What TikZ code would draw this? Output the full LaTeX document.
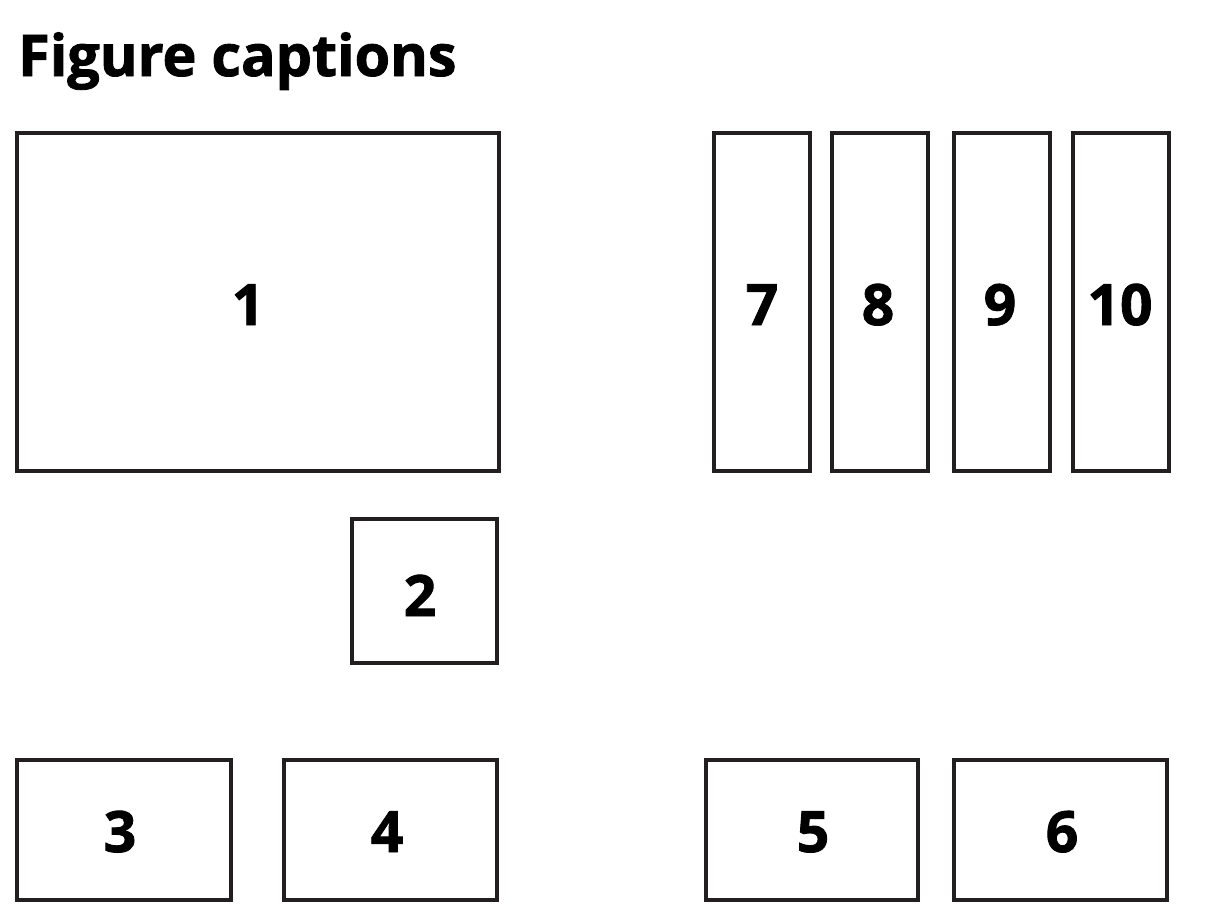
\documentclass[tikz,border=0pt]{standalone}
\usepackage{fontspec}
\setmainfont{Open Sans}[BoldFeatures={FakeBold=1.5}]
\definecolor{boxline}{HTML}{231F20}
\begin{document}
\begin{tikzpicture}[x=1pt,y=-1pt,
  box/.style={draw=boxline,line width=4pt,inner sep=0pt,outer sep=0pt},
  num/.style={font=\fontsize{57}{60}\selectfont\bfseries,anchor=base,inner sep=0pt},
  title/.style={font=\fontsize{57.5}{60}\selectfont\bfseries,anchor=base west,inner sep=0pt}]
\useasboundingbox (0,0) rectangle (1212,922);
\node[title] (t) at (18,76) {Figure captions};
% boxes (centre, width, height)
\node[box,minimum width=482pt,minimum height=338pt] (b1) at (258,302) {};
\node[box,minimum width=145pt,minimum height=144pt] (b2) at (424.5,591) {};
\node[box,minimum width=96pt,minimum height=338pt] (b7) at (762,302) {};
\node[box,minimum width=96pt,minimum height=338pt] (b8) at (880,302) {};
\node[box,minimum width=96pt,minimum height=338pt] (b9) at (1002,302) {};
\node[box,minimum width=96pt,minimum height=338pt] (b10) at (1121,302) {};
\node[box,minimum width=214pt,minimum height=140pt] (b3) at (124,830) {};
\node[box,minimum width=213pt,minimum height=140pt] (b4) at (390.5,830) {};
\node[box,minimum width=212pt,minimum height=140pt] (b5) at (812,830) {};
\node[box,minimum width=213pt,minimum height=140pt] (b6) at (1060.5,830) {};
% labels
\node[num] (l1) at (248,325) {1};
\node[num] (l2) at (420,616) {2};
\node[num] (l7) at (762,325) {7};
\node[num] (l8) at (878,325) {8};
\node[num] (l9) at (1000,325) {9};
\node[num] (l10) at (1120,325) {10};
\node[num] (l3) at (120,852) {3};
\node[num] (l4) at (387,852) {4};
\node[num] (l5) at (813,852) {5};
\node[num] (l6) at (1062,852) {6};
\end{tikzpicture}
\end{document}
